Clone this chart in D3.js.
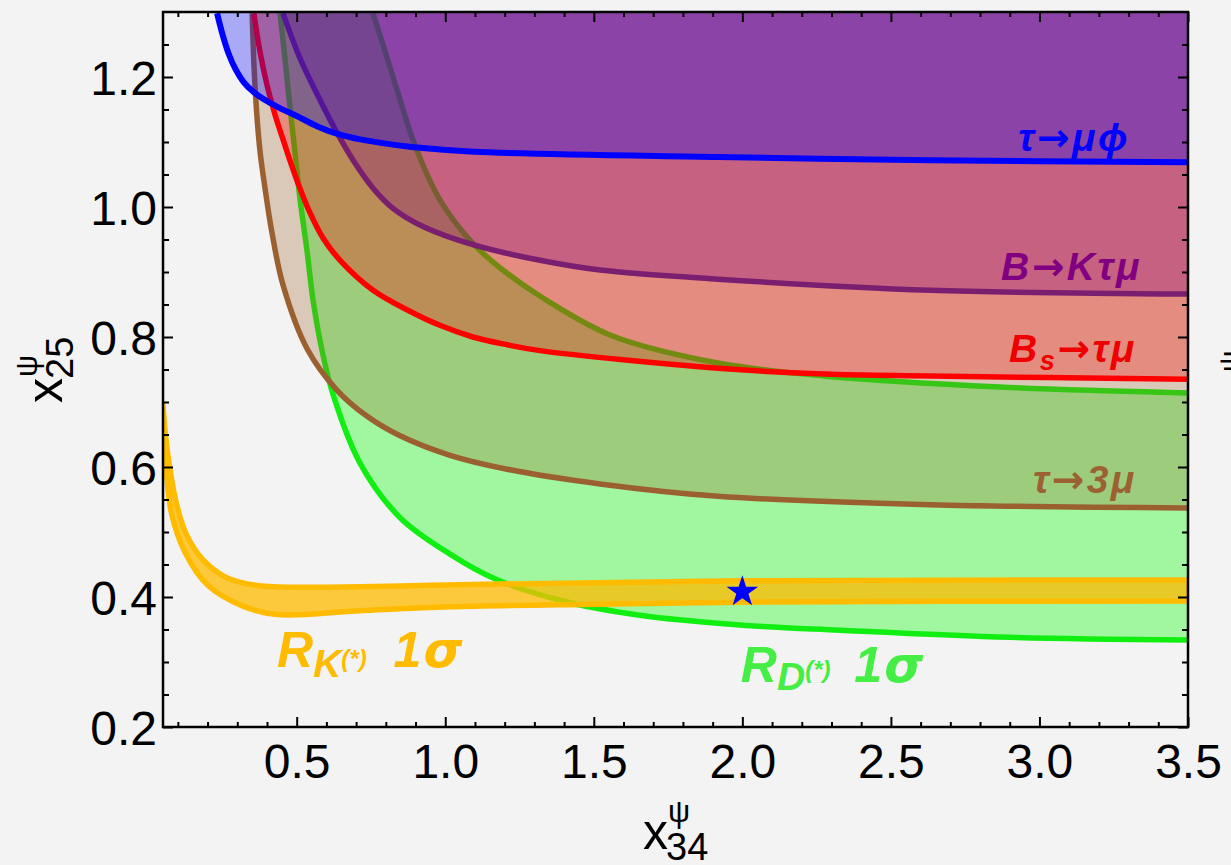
<!DOCTYPE html>
<html>
<head>
<meta charset="utf-8">
<title>x25 vs x34 constraints</title>
<script src="https://cdn.jsdelivr.net/npm/d3@7"></script>
<style>
  html, body { margin: 0; padding: 0; background: #f3f3f3; }
  svg { display: block; }
  text { font-family: "Liberation Sans", Arial, sans-serif; }
</style>
</head>
<body>
<svg id="chart" width="1231" height="865"></svg>
<script>
// Constraint boundaries in the (x34, x25) plane, as [x34, x25] pairs.
const tauMuPhi = [
  [0.232, 1.298], [0.250, 1.266], [0.270, 1.237], [0.294, 1.212], [0.320, 1.193],
  [0.352, 1.178], [0.392, 1.165], [0.440, 1.153], [0.500, 1.140], [0.570, 1.124],
  [0.640, 1.112], [0.713, 1.104], [0.824, 1.096], [0.915, 1.091], [1.097, 1.085],
  [1.918, 1.077], [2.632, 1.072], [3.5, 1.069]
];
const bToKTauMu = [
  [0.454, 1.298], [0.511, 1.229], [0.578, 1.165], [0.636, 1.114], [0.690, 1.072],
  [0.757, 1.029], [0.824, 0.998], [0.925, 0.970], [1.093, 0.942], [1.319, 0.918],
  [1.521, 0.903], [1.918, 0.889], [2.632, 0.872], [3.5, 0.866]
];
const bsToTauMu = [
  [0.356, 1.298], [0.376, 1.240], [0.400, 1.188], [0.427, 1.142], [0.454, 1.104],
  [0.477, 1.072], [0.504, 1.037], [0.538, 0.998], [0.589, 0.952], [0.646, 0.918],
  [0.757, 0.872], [0.871, 0.842], [0.982, 0.818], [1.093, 0.800], [1.208, 0.788],
  [1.319, 0.779], [1.918, 0.752], [2.275, 0.743], [2.632, 0.740], [3.5, 0.735]
];
const tauTo3Mu = [
  [0.350, 1.298], [0.360, 1.183], [0.376, 1.088], [0.393, 1.030], [0.417, 0.960],
  [0.454, 0.880], [0.535, 0.782], [0.636, 0.718], [0.737, 0.678], [0.848, 0.648],
  [1.016, 0.618], [1.204, 0.597], [1.521, 0.574], [1.918, 0.555], [2.632, 0.542],
  [3.5, 0.537]
];
// R_D(*) 1 sigma band: lower and upper edges
const rDLower = [
  [0.444, 1.298], [0.461, 1.226], [0.477, 1.155], [0.494, 1.085], [0.511, 1.013],
  [0.535, 0.932], [0.555, 0.857], [0.585, 0.780], [0.622, 0.712], [0.713, 0.606],
  [0.848, 0.522], [1.016, 0.466], [1.167, 0.428], [1.386, 0.395], [1.655, 0.372],
  [1.992, 0.357], [2.329, 0.349], [2.901, 0.338], [3.5, 0.334]
];
const rDUpper = [
  [0.757, 1.298], [0.797, 1.240], [0.848, 1.165], [0.898, 1.095], [0.982, 1.011],
  [1.097, 0.942], [1.208, 0.898], [1.329, 0.860], [1.561, 0.802], [1.918, 0.760],
  [2.275, 0.740], [2.867, 0.723], [3.5, 0.714]
];
// R_K(*) 1 sigma band: upper and lower edges
const rKUpper = [
  [0.050, 0.695], [0.060, 0.642], [0.074, 0.595], [0.094, 0.546], [0.127, 0.498],
  [0.185, 0.457], [0.259, 0.431], [0.360, 0.418], [0.511, 0.415], [0.848, 0.417],
  [1.184, 0.420], [1.992, 0.425], [3.5, 0.426]
];
const rKLower = [
  [0.050, 0.695], [0.057, 0.642], [0.063, 0.583], [0.080, 0.526], [0.124, 0.469],
  [0.201, 0.418], [0.319, 0.386], [0.434, 0.373], [0.713, 0.379], [1.016, 0.385],
  [1.521, 0.389], [1.992, 0.392], [3.5, 0.394]
];
// Benchmark point
const benchmark = [2.0, 0.408];

// Axis ticks
const xTickValues = [0.5, 1.0, 1.5, 2.0, 2.5, 3.0, 3.5];
const xTickLabels = ["0.5", "1.0", "1.5", "2.0", "2.5", "3.0", "3.5"];
const yTickValues = [0.2, 0.4, 0.6, 0.8, 1.0, 1.2];
const yTickLabels = ["0.2", "0.4", "0.6", "0.8", "1.0", "1.2"];

const W = 1231, H = 865;
const plot = { left: 163, right: 1188, top: 12, bottom: 727 };

const x = d3.scaleLinear().domain([0.05, 3.5]).range([plot.left, plot.right]);
const y = d3.scaleLinear().domain([0.2, 1.3]).range([plot.bottom, plot.top]);

const svg = d3.select("#chart");
svg.append("rect").attr("width", W).attr("height", H).attr("fill", "#f3f3f3");

svg.append("defs").append("clipPath").attr("id", "plot-clip")
  .append("rect")
  .attr("x", plot.left).attr("y", plot.top)
  .attr("width", plot.right - plot.left).attr("height", plot.bottom - plot.top);

const line = d3.line().x(d => x(d[0])).y(d => y(d[1])).curve(d3.curveCatmullRom.alpha(0.5));

const xOut = plot.right + 30, yOut = plot.top - 30;

// Region above a boundary (closed through the top-right corner)
function abovePath(pts) {
  const first = pts[0], last = pts[pts.length - 1];
  return line(pts) +
    `L${xOut},${y(last[1])}L${xOut},${yOut}L${x(first[0])},${yOut}Z`;
}
// Region between two edges; optionally closed across the top of the frame
function bandPath(a, b, closeTop) {
  const back = b.slice().reverse();
  let p = line(a) + "L" + line(back).slice(1);
  if (closeTop) {
    p += `L${x(back[back.length - 1][0])},${yOut}L${x(a[0][0])},${yOut}`;
  }
  return p + "Z";
}

const g = svg.append("g").attr("clip-path", "url(#plot-clip)");
const LW = 5.5;

// R_D(*) band
g.append("path").attr("d", bandPath(rDLower, rDUpper, true))
  .attr("fill", "#00ff00").attr("fill-opacity", 0.34);
g.append("path").attr("d", line(rDLower)).attr("fill", "none")
  .attr("stroke", "#11ee11").attr("stroke-width", LW);
g.append("path").attr("d", line(rDUpper)).attr("fill", "none")
  .attr("stroke", "#11ee11").attr("stroke-width", LW);

// R_K(*) band
g.append("path").attr("d", bandPath(rKUpper, rKLower, false))
  .attr("fill", "#ffbb00").attr("fill-opacity", 0.75)
  .attr("stroke", "#ffbb00").attr("stroke-width", LW).attr("stroke-linejoin", "round");

// tau -> 3 mu
g.append("path").attr("d", abovePath(tauTo3Mu))
  .attr("fill", "#9c5c23").attr("fill-opacity", 0.28);
g.append("path").attr("d", line(tauTo3Mu)).attr("fill", "none")
  .attr("stroke", "#9a6030").attr("stroke-width", LW);

// B_s -> tau mu
g.append("path").attr("d", abovePath(bsToTauMu))
  .attr("fill", "#ff0000").attr("fill-opacity", 0.3);
g.append("path").attr("d", line(bsToTauMu)).attr("fill", "none")
  .attr("stroke", "#ff0000").attr("stroke-width", LW);

// B -> K tau mu
g.append("path").attr("d", abovePath(bToKTauMu))
  .attr("fill", "#800080").attr("fill-opacity", 0.3);
g.append("path").attr("d", line(bToKTauMu)).attr("fill", "none")
  .attr("stroke", "#7a1f6f").attr("stroke-width", LW);

// tau -> mu phi
g.append("path").attr("d", abovePath(tauMuPhi))
  .attr("fill", "#0000ff").attr("fill-opacity", 0.3);
g.append("path").attr("d", line(tauMuPhi)).attr("fill", "none")
  .attr("stroke", "#0000ff").attr("stroke-width", 6);

// Benchmark star
g.append("path")
  .attr("d", d3.symbol(d3.symbolStar).size(310)())
  .attr("transform", `translate(${x(benchmark[0])},${y(benchmark[1])})`)
  .attr("fill", "#0000ff");

// Frame with inward ticks on all four sides
const xMinor = d3.range(1, 35).map(i => i / 10).filter(v => Math.abs(v * 2 - Math.round(v * 2)) > 1e-6);
const yMinor = d3.range(5, 26).map(i => i * 0.05).filter(v => Math.abs(v * 5 - Math.round(v * 5)) > 1e-6);

function styleAxis(sel) {
  sel.select(".domain").remove();
  sel.selectAll(".tick line").attr("stroke", "#000").attr("stroke-width", 2);
}
function addAxis(axisFn, scale, values, len, transform, labels, pad) {
  const a = axisFn(scale).tickValues(values).tickSize(-len)
    .tickPadding(pad || 0)
    .tickFormat(labels ? (d => labels[values.indexOf(d)]) : "");
  const sel = svg.append("g").attr("transform", transform).call(a);
  styleAxis(sel);
  return sel;
}

const bx = addAxis(d3.axisBottom, x, xTickValues, 10, `translate(0,${plot.bottom})`, xTickLabels, 17);
addAxis(d3.axisBottom, x, xMinor, 5, `translate(0,${plot.bottom})`);
addAxis(d3.axisTop, x, xTickValues, 10, `translate(0,${plot.top})`);
addAxis(d3.axisTop, x, xMinor, 5, `translate(0,${plot.top})`);
const ly = addAxis(d3.axisLeft, y, yTickValues, 10, `translate(${plot.left},0)`, yTickLabels, 6);
addAxis(d3.axisLeft, y, yMinor, 6, `translate(${plot.left},0)`);
addAxis(d3.axisRight, y, yTickValues, 10, `translate(${plot.right},0)`);
addAxis(d3.axisRight, y, yMinor, 6, `translate(${plot.right},0)`);

[bx, ly].forEach(s => s.selectAll("text")
  .attr("font-family", "Liberation Sans, Arial, sans-serif")
  .attr("font-size", 48).attr("fill", "#000"));
ly.selectAll("text").attr("dy", "0.37em");

svg.append("rect")
  .attr("x", plot.left).attr("y", plot.top)
  .attr("width", plot.right - plot.left).attr("height", plot.bottom - plot.top)
  .attr("fill", "none").attr("stroke", "#000").attr("stroke-width", 2.5);

// Curve labels
const ARROW_FONT = "DejaVu Sans, sans-serif";
function label(pos, anchor, color, parts, spacing) {
  const t = svg.append("text")
    .attr("x", x(pos[0])).attr("y", y(pos[1]))
    .attr("text-anchor", anchor)
    .attr("font-weight", "bold").attr("font-style", "italic")
    .attr("fill", color);
  if (spacing) t.attr("letter-spacing", spacing);
  parts.forEach(p => {
    const s = t.append("tspan").attr("font-size", p.size).text(p.t);
    if (p.dy) s.attr("dy", p.dy);
    if (p.dx) s.attr("dx", p.dx);
    if (p.font) s.attr("font-family", p.font);
  });
  return t;
}

const LS = 39;
label([3.305, 1.086], "end", "#0000ff", [
  { t: "τ", size: LS }, { t: "→", size: LS, font: ARROW_FONT }, { t: "μϕ", size: LS }
], 2.5);
label([3.345, 0.888], "end", "#800080", [
  { t: "B", size: LS }, { t: "→", size: LS, font: ARROW_FONT }, { t: "Kτμ", size: LS }
], 2.5);
label([3.328, 0.7615], "end", "#ee0000", [
  { t: "B", size: LS }, { t: "s", size: 27, dy: 8 },
  { t: "→", size: LS, dy: -8, font: ARROW_FONT }, { t: "τμ", size: LS }
], 2.5);
label([3.328, 0.560], "end", "#9b6133", [
  { t: "τ", size: LS }, { t: "→", size: LS, font: ARROW_FONT }, { t: "3μ", size: LS }
], 2.5);

label([0.434, 0.2923], "start", "#ffbb00", [
  { t: "R", size: 50 }, { t: "K", size: 39, dy: 10 }, { t: "(*)", size: 24, dy: -10 },
  { t: " 1", size: 50, dx: 13 }, { t: "σ", size: 50, dx: 2, font: ARROW_FONT }
]);
label([1.995, 0.2692], "start", "#44ee44", [
  { t: "R", size: 50 }, { t: "D", size: 39, dy: 8 }, { t: "(*)", size: 24, dy: -12 },
  { t: " 1", size: 50, dy: 4, dx: 10 }, { t: "σ", size: 50, dx: 2, font: ARROW_FONT }
]);

// Axis titles
const xt = svg.append("g").attr("transform", "translate(643,849)");
xt.append("text").attr("font-size", 50).text("x");
xt.append("text").attr("x", 23).attr("y", 11).attr("font-size", 38).text("34");
xt.append("text").attr("x", 25).attr("y", -27).attr("font-size", 31).text("ψ");

const yt = svg.append("g").attr("transform", "translate(62,403) rotate(-90)");
yt.append("text").attr("font-size", 50).text("x");
yt.append("text").attr("x", 24).attr("y", 11).attr("font-size", 38).text("25");
yt.append("text").attr("x", 26).attr("y", -25).attr("font-size", 31).text("ψ");

// Edge of the neighbouring panel's axis title
svg.append("text").attr("transform", "translate(1240,372) rotate(-90)")
  .attr("font-size", 30).text("ψ");
</script>
</body>
</html>
